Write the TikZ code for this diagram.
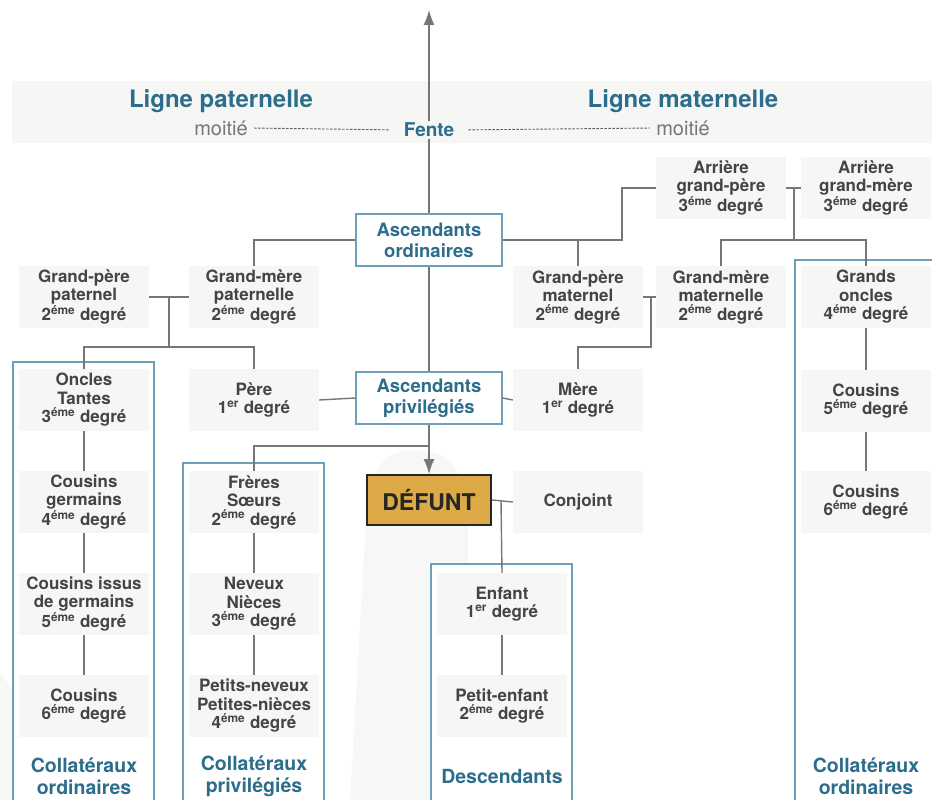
\documentclass[tikz,border=0pt]{standalone}
\usepackage{fontspec}
\setmainfont{TeX Gyre Heros}
\usepackage{xcolor}
\usetikzlibrary{arrows.meta}

\definecolor{titleblue}{HTML}{2C6D8C}
\definecolor{frameblue}{HTML}{6F9EBB}
\definecolor{boxgrey}{HTML}{F6F6F4}
\definecolor{ghost}{HTML}{F7F7F5}
\definecolor{txtgrey}{HTML}{444444}
\definecolor{linegrey}{HTML}{767676}
\definecolor{gold}{HTML}{DCAA46}

\newcommand\eme{\textsuperscript{éme}}
\newcommand\ier{\textsuperscript{er}}

\begin{document}
\begin{tikzpicture}[x=1pt,y=-1pt,
  pers/.style={fill=boxgrey,minimum width=130pt,minimum height=62pt,inner sep=0pt,
    align=center,text=txtgrey,font=\fontsize{17}{18.5}\selectfont\bfseries},
  asc/.style={draw=frameblue,line width=1.2pt,fill=white,minimum width=146pt,
    minimum height=52pt,inner sep=0pt,align=center,text=titleblue,
    font=\fontsize{18.5}{21}\selectfont\bfseries},
  grp/.style={draw=frameblue,line width=1.2pt,fill=white},
  grplabel/.style={align=center,text=titleblue,font=\fontsize{19.5}{22}\selectfont\bfseries},
  link/.style={draw=linegrey,line width=1.4pt}]
  \useasboundingbox (0,0) rectangle (932,800);
  \clip (0,0) rectangle (932,800);

  % faint background shapes
  \fill[ghost] (350,800) -- (366,520) .. controls (368,468) and (385,450) .. (415,450)
    .. controls (450,450) and (466,470) .. (468,520) -- (470,800) -- cycle;
  \fill[ghost] (0,672) -- (14,692) -- (14,800) -- (0,800) -- cycle;

  % header band
  \fill[boxgrey] (12,81) rectangle (940,143);
  \node[text=titleblue,font=\fontsize{24}{26}\selectfont\bfseries] (lp) at (221,101) {Ligne paternelle};
  \node[text=titleblue,font=\fontsize{24}{26}\selectfont\bfseries] (lm) at (683,101) {Ligne maternelle};
  \node[text=linegrey,font=\fontsize{20}{22}\selectfont] (mp) at (221,128) {moitié};
  \node[text=linegrey,font=\fontsize{20}{22}\selectfont] (mm) at (683,128) {moitié};
  \node[text=titleblue,font=\fontsize{19}{21}\selectfont\bfseries,inner sep=2pt] (fente) at (429,130) {Fente};
  \draw[linegrey!80!black,line width=0.9pt,dash pattern=on 2.5pt off 1.5pt,shorten <=3pt,shorten >=12pt] (mp.east) -- (fente.west);
  \draw[linegrey!80!black,line width=0.9pt,dash pattern=on 2.5pt off 1.5pt,shorten <=12pt,shorten >=3pt] (fente.east) -- (mm.west);

  % groups
  \draw[grp] (13,362) rectangle (154,820);
  \draw[grp] (183,463) rectangle (324,820);
  \draw[grp] (431,564) rectangle (572,820);
  \draw[grp] (795,260) rectangle (945,820);
  \node[grplabel] (lco) at (84,776) {Collatéraux\\ordinaires};
  \node[grplabel] (lcp) at (254,776) {Collatéraux\\privilégiés};
  \node[grplabel] (lde) at (502,776) {Descendants};
  \node[grplabel] (lcr) at (866,776) {Collatéraux\\ordinaires};

  % ascendants
  \node[asc] (ao) at (429,240) {Ascendants\\ordinaires};
  \node[asc] (ap) at (429,398) {Ascendants\\privilégiés};
  \node[draw=black!85,line width=2pt,fill=gold,minimum width=124pt,minimum height=50pt,
    font=\fontsize{23}{25}\selectfont\bfseries,text=black!85] (def) at (429,500) {DÉFUNT};

  % persons
  \node[pers] (agp) at (721,188) {Arrière\\grand-père\\3\eme{} degré};
  \node[pers] (agm) at (866,188) {Arrière\\grand-mère\\3\eme{} degré};
  \node[pers] (gpp) at (84,297) {Grand-père\\paternel\\2\eme{} degré};
  \node[pers] (gmp) at (254,297) {Grand-mère\\paternelle\\2\eme{} degré};
  \node[pers] (gpm) at (578,297) {Grand-père\\maternel\\2\eme{} degré};
  \node[pers] (gmm) at (721,297) {Grand-mère\\maternelle\\2\eme{} degré};
  \node[pers] (go) at (866,297) {Grands\\oncles\\4\eme{} degré};
  \node[pers] (ot) at (84,400) {Oncles\\Tantes\\3\eme{} degré};
  \node[pers] (pere) at (254,400) {Père\\1\ier{} degré};
  \node[pers] (mere) at (578,400) {Mère\\1\ier{} degré};
  \node[pers] (c5) at (866,401) {Cousins\\5\eme{} degré};
  \node[pers] (cg) at (84,502) {Cousins\\germains\\4\eme{} degré};
  \node[pers] (fs) at (254,502) {Frères\\Sœurs\\2\eme{} degré};
  \node[pers] (conj) at (578,502) {Conjoint};
  \node[pers] (c6r) at (866,502) {Cousins\\6\eme{} degré};
  \node[pers] (cig) at (84,604) {Cousins issus\\de germains\\5\eme{} degré};
  \node[pers] (nn) at (254,604) {Neveux\\Nièces\\3\eme{} degré};
  \node[pers] (enf) at (502,604) {Enfant\\1\ier{} degré};
  \node[pers] (c6l) at (84,706) {Cousins\\6\eme{} degré};
  \node[pers] (pn) at (254,706) {Petits-neveux\\Petites-nièces\\4\eme{} degré};
  \node[pers] (pe) at (502,706) {Petit-enfant\\2\eme{} degré};

  % junctions
  \coordinate (top) at (429,10);
  \coordinate (ja) at (622,240);
  \coordinate (ma) at (794,240);
  \coordinate (pa) at (169,347);
  \coordinate (mb) at (651,347);
  \coordinate (fb) at (429,446);
  \coordinate (dc) at (501,500);

  % links
  \draw[link,-{Latex[length=15pt,width=11pt]}] (fente.north) -- (top);
  \draw[link] (ao.north) -- (fente.south);
  \draw[link] (ao.south) -- (ap.north);
  \draw[link,-{Latex[length=15pt,width=11pt]}] (ap.south) -- (def.north);
  \draw[link] (ao.west) -| (gmp.north);
  \draw[link] (ao.east) -| (gpm.north);
  \draw[link] (ao.east) -- (ja) |- (agp.west);
  \draw[link] (agp.east) -- (agm.west);
  \draw[link] (ma |- agp.east) -- (ma);
  \draw[link] (gmm.north) |- (ma) -| (go.north);
  \draw[link] (gpp.east) -- (gmp.west);
  \draw[link] (pa |- gpp.east) -- (pa);
  \draw[link] (ot.north) |- (pa) -| (pere.north);
  \draw[link] (gpm.east) -- (gmm.west);
  \draw[link] (mb |- gpm.east) -- (mb) -| (mere.north);
  \draw[link] (pere.east) -- (ap.west);
  \draw[link] (mere.west) -- (ap.east);
  \draw[link] (fb) -| (fs.north);
  \draw[link] (def.east) -- (conj.west);
  \draw[link] (dc) -- (enf.north);
  \foreach \a/\b in {ot/cg, cg/cig, cig/c6l, fs/nn, nn/pn, enf/pe, go/c5, c5/c6r}
    \draw[link] (\a.south) -- (\b.north);
\end{tikzpicture}
\end{document}
